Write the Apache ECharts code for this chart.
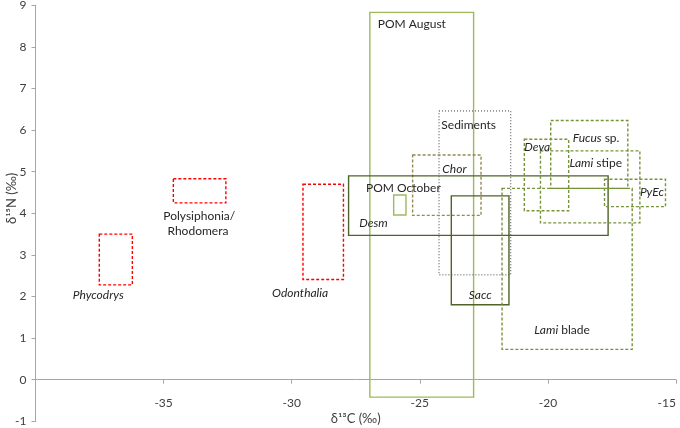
<!DOCTYPE html>
<html>
<head>
<meta charset="utf-8">
<script src="https://cdn.jsdelivr.net/npm/echarts@6/dist/echarts.min.js"></script>
<style>html,body{margin:0;padding:0;background:#fff}#c{width:680px;height:428px}</style>
</head>
<body>
<div id="c"></div>
<script>
// ---- data: isotope ranges (δ13C min/max, δ15N min/max) ----
const boxNames = ['POM August','Sediments','Chor','Desm','POM October','Sacc','Lami blade','Deva','Fucus','Lami stipe','PyEc','Phycodrys','Polysiphonia','Odonthalia'];
const boxCmin = [-26.95,-24.25,-25.28,-27.78,-26.02,-23.77,-21.79,-20.92,-19.89,-20.29,-17.79,-37.51,-34.62,-29.56];
const boxCmax = [-22.90,-21.45,-22.61,-17.65,-25.54,-21.52,-16.71,-19.19,-16.88,-16.41,-15.41,-36.22,-32.57,-27.98];
const boxNmin = [-0.42, 2.52, 3.95, 3.47, 3.96, 1.80, 0.73, 4.06, 4.60, 3.77, 4.16, 2.28, 4.25, 2.41];
const boxNmax = [ 8.83, 6.46, 5.40, 4.90, 4.44, 4.42, 4.60, 5.78, 6.23, 5.50, 4.82, 3.50, 4.83, 4.70];

// ---- text annotations (anchor in data coordinates) ----
const labelTexts = ['POM August','Sediments','{i|Chor}','POM October','{i|Desm}','{i|Sacc}','{i|Lami} blade','{i|Deva}','{i|Fucus} sp.','{i|Lami} stipe','{i|PyEc}','Polysiphonia/','Rhodomera','{i|Phycodrys}','{i|Odonthalia}'];
const labelC = [-26.64,-24.16,-24.12,-27.10,-27.36,-23.09,-20.53,-20.92,-19.03,-19.16,-16.41,-33.61,-33.66,-37.55,-29.67];
const labelN = [ 8.55, 6.12, 5.06, 4.61, 3.77, 2.04, 1.18, 5.59, 5.80, 5.20, 4.50, 3.94, 3.58, 2.04, 2.08];

// ---- axis ticks ----
const xTicks = [-40,-35,-30,-25,-20,-15];
const yTicks = [-1,0,1,2,3,4,5,6,7,8,9];

// ---- styles (kept separate from data) ----
const RED = {stroke:'#ff0000', lineWidth:1.4, lineDash:[3,2]};
const LG = {stroke:'#9bbb59', lineWidth:1.4, lineDash:null};
const DK = {stroke:'#4f6228', lineWidth:1.4, lineDash:null};
const GD = {stroke:'#77933c', lineWidth:1.4, lineDash:[3,2]};
const boxStyle = {
  'POM August':LG,'POM October':LG,'Desm':DK,'Sacc':DK,
  'Sediments':{stroke:'#404040', lineWidth:1, lineDash:[1,2]},
  'Chor':{stroke:'#948a54', lineWidth:1.4, lineDash:[3,2]},
  'Lami blade':GD,'Deva':GD,'Fucus':GD,'Lami stipe':GD,'PyEc':GD,
  'Phycodrys':RED,'Polysiphonia':RED,'Odonthalia':RED
};
const centered = {'Polysiphonia/':1,'Rhodomera':1,'{i|Phycodrys}':1,'{i|Odonthalia}':1};
const FONT = 'Lato, "Open Sans", sans-serif';

const boxData = boxNames.map((n,i)=>[boxCmin[i], boxNmin[i], boxCmax[i], boxNmax[i], i]);
const labelData = labelTexts.map((t,i)=>[labelC[i], labelN[i], i]);

const GRID_TOP = 5.3, GRID_BOTTOM = 6.7, PLOT_H = 428 - GRID_TOP - GRID_BOTTOM;
// distance (px) from the bottom of the plot (y=-1) up to y=0
const zeroOffset = PLOT_H * (0 - yTicks[0]) / (yTicks[yTicks.length-1] - yTicks[0]);

const chart = echarts.init(document.getElementById('c'), null, {renderer:'canvas'});
chart.setOption({
  animation:false,
  grid:{left:35.5, right:4, top:GRID_TOP, bottom:GRID_BOTTOM, containLabel:false, outerBoundsMode:'none'},
  xAxis:{
    type:'value', min:xTicks[0], max:xTicks[xTicks.length-1], interval:5,
    position:'bottom', offset:-zeroOffset,
    name:'δ¹³C (‰)', nameLocation:'middle', nameGap:33, nameMoveOverlap:false,
    nameTextStyle:{fontFamily:FONT, fontSize:13, color:'#404040'},
    axisLine:{onZero:false, lineStyle:{color:'#a6a6a6', width:1}},
    axisTick:{show:true, length:4, lineStyle:{color:'#a6a6a6'}},
    axisLabel:{showMinLabel:false, alignMaxLabel:'right', margin:17, fontFamily:FONT, fontSize:12, color:'#404040'},
    splitLine:{show:false}
  },
  yAxis:{
    type:'value', min:yTicks[0], max:yTicks[yTicks.length-1], interval:1,
    name:'δ¹⁵N (‰)', nameLocation:'middle', nameGap:17, nameRotate:90, nameMoveOverlap:false,
    nameTextStyle:{fontFamily:FONT, fontSize:13, color:'#404040', padding:[0,0,0,30]},
    axisLine:{show:true, onZero:false, lineStyle:{color:'#a6a6a6', width:1}},
    axisTick:{show:true, length:4, lineStyle:{color:'#a6a6a6'}},
    axisLabel:{margin:9, fontFamily:FONT, fontSize:12, color:'#404040'},
    splitLine:{show:false}
  },
  series:[
    {
      type:'custom', silent:true, data:boxData, clip:false,
      encode:{x:[0,2], y:[1,3]},
      renderItem:function(params, api){
        const p1 = api.coord([api.value(0), api.value(1)]);
        const p2 = api.coord([api.value(2), api.value(3)]);
        const s = boxStyle[boxNames[api.value(4)]];
        return {
          type:'rect',
          shape:{x:Math.min(p1[0],p2[0]), y:Math.min(p1[1],p2[1]), width:Math.abs(p2[0]-p1[0]), height:Math.abs(p2[1]-p1[1])},
          style:{fill:null, stroke:s.stroke, lineWidth:s.lineWidth, lineDash:s.lineDash}
        };
      }
    },
    {
      type:'custom', silent:true, data:labelData, clip:false,
      encode:{x:0, y:1},
      renderItem:function(params, api){
        const p = api.coord([api.value(0), api.value(1)]);
        const t = labelTexts[api.value(2)];
        return {
          type:'text', x:p[0], y:p[1],
          style:{
            text:t, fill:'#262626', font:'12px ' + FONT,
            align: centered[t] ? 'center' : 'left', verticalAlign:'middle',
            rich:{i:{fontStyle:'italic', fontSize:12, fontFamily:FONT, fill:'#262626'}}
          }
        };
      }
    }
  ]
});
</script>
</body>
</html>
